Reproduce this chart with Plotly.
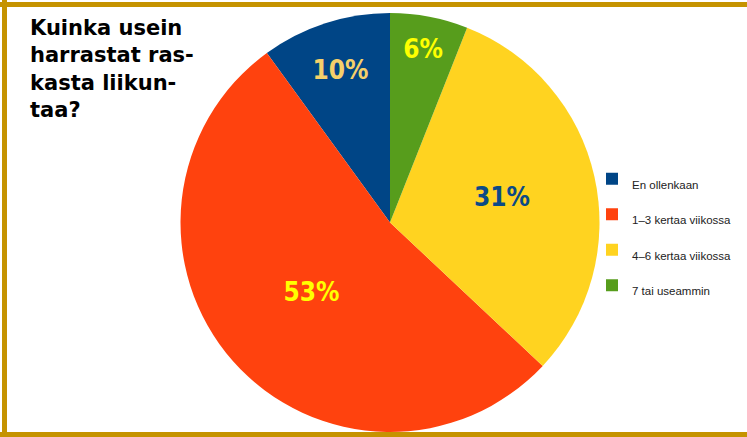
import plotly.graph_objects as go

W, H = 747, 437

categories = ["En ollenkaan", "1–3 kertaa viikossa", "4–6 kertaa viikossa", "7 tai useammin"]
values = [10, 53, 31, 6]
colors = ["#004586", "#FF420E", "#FFD320", "#579D1C"]
text_colors = ["#F5D06A", "#FFFF00", "#0B4A86", "#FFFF00"]
title_lines = ["Kuinka usein", "harrastat ras-", "kasta liikun-", "taa?"]

cx, cy, r = 390, 222.5, 209.5

fig = go.Figure(go.Pie(
    labels=[f'<span style="font-size:11.5px">{c}</span>' for c in categories],
    values=values,
    sort=False,
    direction="counterclockwise",
    rotation=-360 * values[0] / sum(values),
    marker=dict(colors=colors, line=dict(width=0)),
    textinfo="percent",
    texttemplate="%{percent:.0%}",
    textposition="inside",
    insidetextorientation="horizontal",
    textfont=dict(family="DejaVu Sans Condensed", size=26, color=text_colors, weight="bold"),
    domain=dict(x=[(cx - r) / W, (cx + r) / W], y=[(H - cy - r) / H, (H - cy + r) / H]),
    hoverinfo="skip",
))

fig.update_layout(
    width=W, height=H,
    margin=dict(l=0, r=0, t=0, b=0),
    paper_bgcolor="white",
    plot_bgcolor="white",
    font=dict(family="Liberation Sans", color="#222"),
    showlegend=True,
    legend=dict(
        x=592 / W, y=1 - 156 / H, xanchor="left", yanchor="top",
        font=dict(family="Liberation Sans", size=25, color="#222"),
        bgcolor="rgba(0,0,0,0)",
        itemclick=False,
    ),
    annotations=[dict(
        text="<b>" + "<br>".join(title_lines) + "</b>",
        x=28 / W, y=1 - 14 / H, xref="paper", yref="paper",
        xanchor="left", yanchor="top", align="left", showarrow=False,
        font=dict(family="DejaVu Sans", size=21, color="black"),
    )],
    shapes=[
        dict(type="line", xref="paper", yref="paper", x0=0, x1=1, y0=1 - 4.5 / H, y1=1 - 4.5 / H,
             line=dict(color="#C59300", width=5)),
        dict(type="line", xref="paper", yref="paper", x0=4.5 / W, x1=4.5 / W, y0=0, y1=1,
             line=dict(color="#C59300", width=5)),
        dict(type="line", xref="paper", yref="paper", x0=0, x1=1, y0=2.5 / H, y1=2.5 / H,
             line=dict(color="#C59300", width=5)),
    ],
)

fig.write_html("out.html")
